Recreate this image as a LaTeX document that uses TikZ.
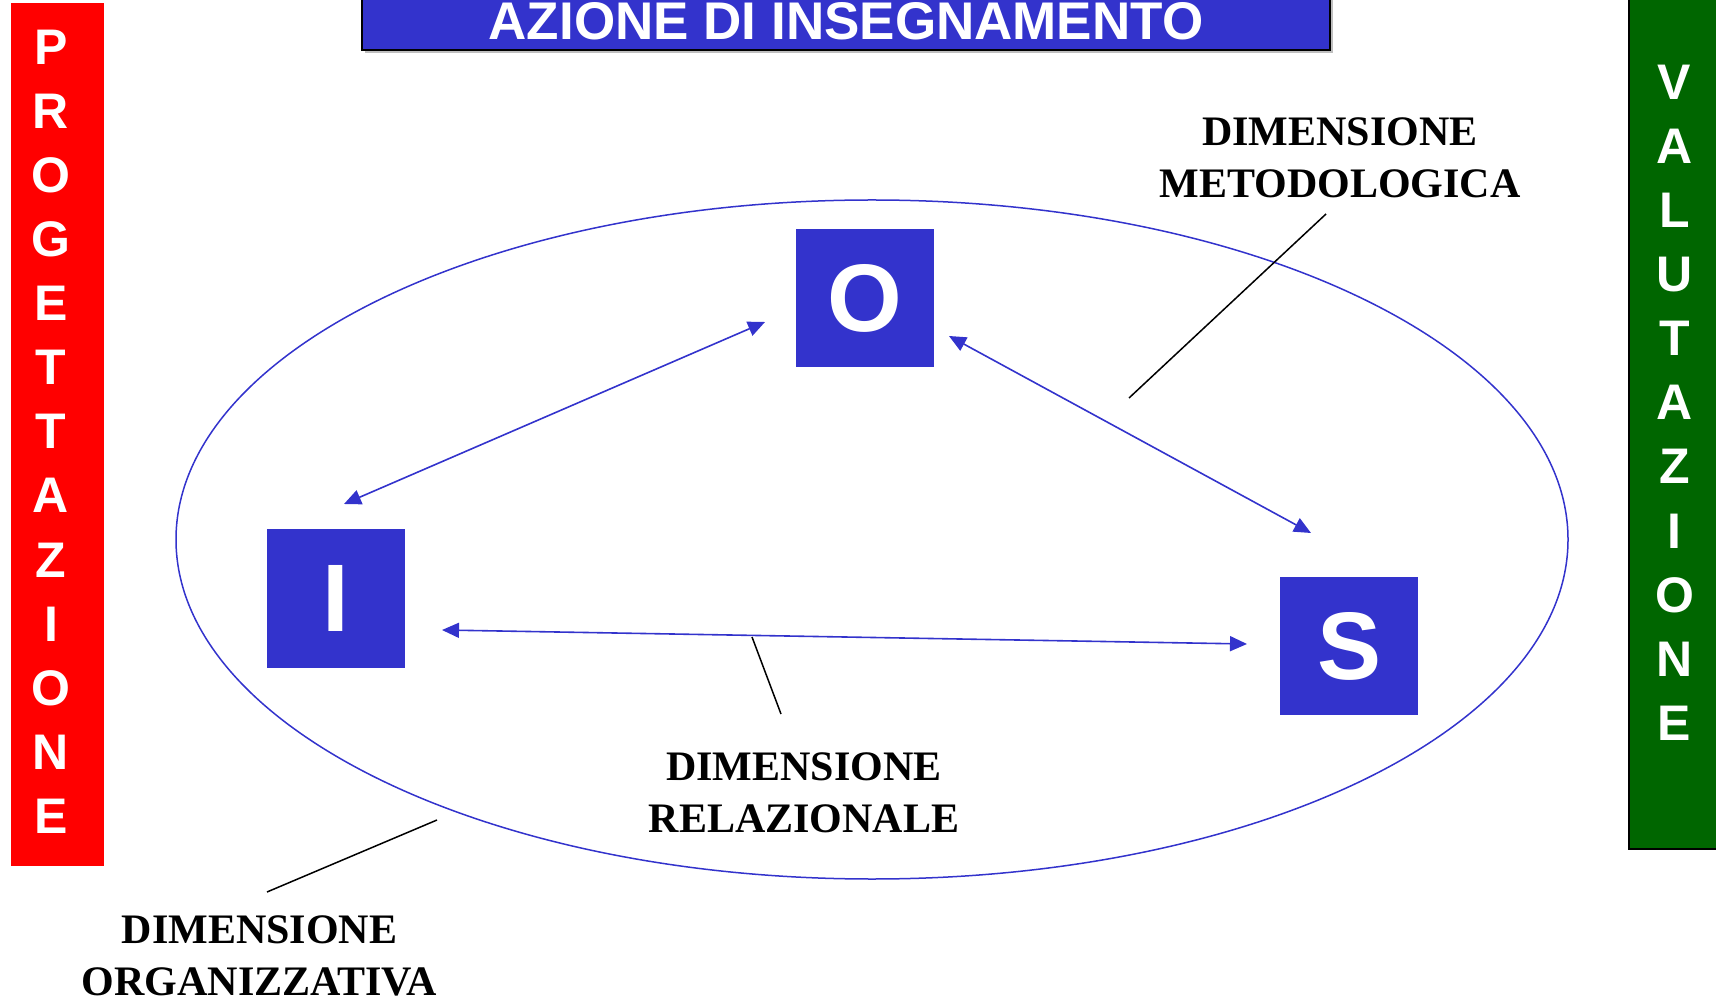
\documentclass[tikz,border=0pt]{standalone}
\usepackage{fontspec}
\setmainfont{Liberation Serif}
\setsansfont{Liberation Sans}
\usetikzlibrary{arrows.meta}
\definecolor{dblue}{RGB}{51,51,204}
\definecolor{dgreen}{RGB}{0,102,0}
\begin{document}
\begin{tikzpicture}[x=0.5pt,y=-0.5pt,
  letterbox/.style={fill=dblue, minimum width=69pt, minimum height=69pt, inner sep=0pt,
    text=white, font=\sffamily\bfseries\fontsize{48}{48}\selectfont},
  sideletter/.style={text=white, inner sep=0pt, anchor=base,
    font=\sffamily\bfseries\fontsize{25}{25}\selectfont},
  titlebox/.style={fill=dblue, draw=black, line width=1pt, minimum width=484pt, minimum height=29pt,
    inner sep=0pt, text=white, font=\sffamily\bfseries\fontsize{26.5}{26.5}\selectfont},
  dimlabel/.style={align=center, inner sep=0pt, anchor=base,
    font=\bfseries\fontsize{21}{26}\selectfont},
  link/.style={draw=dblue, line width=0.8pt,
    {Triangle[length=8.5pt,width=7.5pt]}-{Triangle[length=8.5pt,width=7.5pt]}},
  leader/.style={draw=black, line width=0.75pt}]
\useasboundingbox (0,0) rectangle (1716,1004);
% side bars
\fill[red] (11,3) rectangle (104,866);
\foreach \l [count=\i from 0] in {P,R,O,G,E,T,T,A,Z,I,O,N,E}
  \node[sideletter] (p\i) at (51,{65+64*\i}) {\l};
\filldraw[fill=dgreen, draw=black, line width=1pt] (1629,-10) rectangle (1740,849);
\foreach \l [count=\i from 0] in {V,A,L,U,T,A,Z,I,O,N,E}
  \node[sideletter] (v\i) at (1674.5,{100+64*\i}) {\l};
% title
\fill[gray!50] (365,-8) rectangle (1333,53);
\node[titlebox] (T) at (846,21) {AZIONE DI INSEGNAMENTO};
% ellipse
\draw[dblue, line width=0.75pt] (872,539.5) ellipse [x radius=348pt, y radius=169.75pt];
% boxes
\node[letterbox] (O) at (865,298) {O};
\node[letterbox] (I) at (336,598.5) {I};
\node[letterbox] (S) at (1349,646) {S};
% arrow ends
\coordinate (io1) at (344,504);
\coordinate (io2) at (765,322);
\coordinate (os1) at (949,336);
\coordinate (os2) at (1311,533);
\coordinate (is1) at (442,630);
\coordinate (is2) at (1247,644);
\draw[link] (io1) -- (io2);
\draw[link] (os1) -- (os2);
\draw[link] (is1) -- (is2);
% labels (anchor = baseline of the last line)
\node[dimlabel] (met) at (1340,198) {DIMENSIONE\\METODOLOGICA};
\node[dimlabel] (rel) at (804,832) {DIMENSIONE\\RELAZIONALE};
\node[dimlabel] (org) at (259.5,995) {DIMENSIONE\\ORGANIZZATIVA};
% leaders
\coordinate (m1) at (1326,214);
\coordinate (m2) at (1129,398);
\coordinate (r1) at (752,637);
\coordinate (r2) at (781,714);
\coordinate (o1) at (437,820);
\coordinate (o2) at (267,892);
\draw[leader] (m1) -- (m2);
\draw[leader] (r1) -- (r2);
\draw[leader] (o1) -- (o2);
\end{tikzpicture}
\end{document}
